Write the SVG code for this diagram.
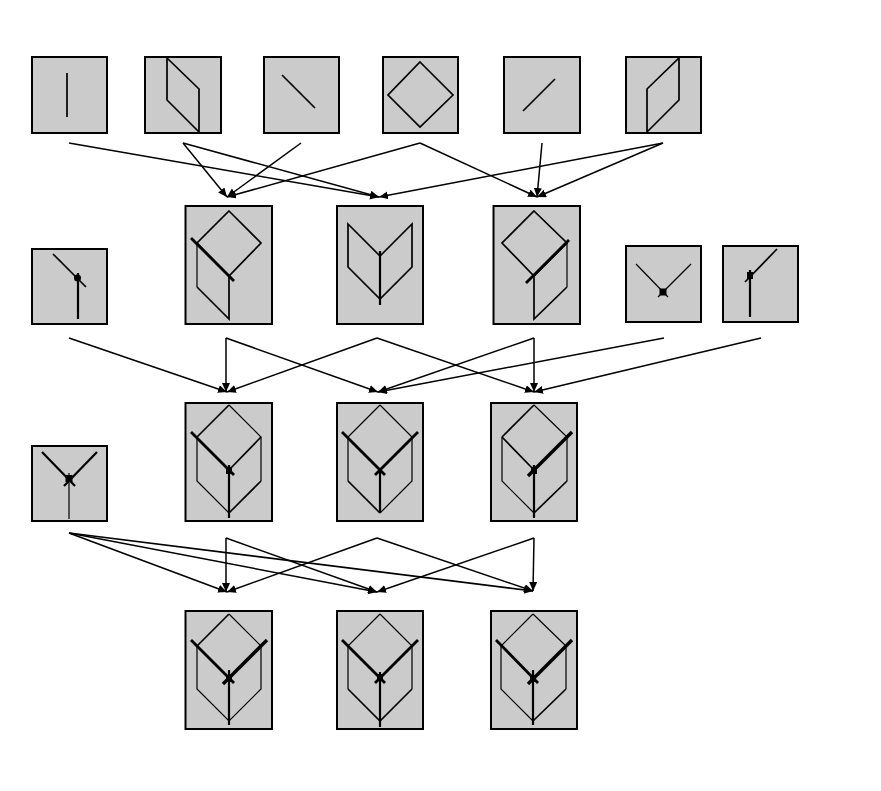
<svg xmlns="http://www.w3.org/2000/svg" width="881" height="791" viewBox="0 0 881 791">
<style>
.box{fill:#cbcbcb;stroke:#000;stroke-width:2}
.a{fill:none;stroke:#000;stroke-width:1.2}
.b{fill:none;stroke:#000;stroke-width:1.7}
.d{fill:none;stroke:#000;stroke-width:2.2}
.c{fill:none;stroke:#000;stroke-width:2.8}
.h{fill:none;stroke:#000;stroke-width:3.4}
#connectors line{stroke:#000;stroke-width:1.5;marker-end:url(#arrow)}
</style>
<defs>
<marker id="arrow" markerUnits="userSpaceOnUse" markerWidth="12" markerHeight="10" refX="9" refY="4" orient="auto"><path d="M0,0L9,4L0,8Z" fill="#000"/></marker>
</defs>
<rect width="881" height="791" fill="#fff"/>
<g id="connectors">
<line x1="69" y1="143" x2="379" y2="197"/>
<line x1="183" y1="143" x2="227" y2="197"/>
<line x1="183" y1="143" x2="379" y2="197"/>
<line x1="301" y1="143" x2="227" y2="197"/>
<line x1="420" y1="143" x2="227" y2="197"/>
<line x1="420" y1="143" x2="537" y2="197"/>
<line x1="542" y1="143" x2="537" y2="197"/>
<line x1="663" y1="143" x2="379" y2="197"/>
<line x1="663" y1="143" x2="537" y2="197"/>
<line x1="69" y1="338" x2="227" y2="392"/>
<line x1="226" y1="338" x2="226" y2="392"/>
<line x1="226" y1="338" x2="378" y2="392"/>
<line x1="377" y1="338" x2="227" y2="392"/>
<line x1="377" y1="338" x2="534" y2="392"/>
<line x1="534" y1="338" x2="378" y2="392"/>
<line x1="534" y1="338" x2="534" y2="392"/>
<line x1="664" y1="338" x2="378" y2="392"/>
<line x1="761" y1="338" x2="534" y2="392"/>
<line x1="69" y1="533" x2="227" y2="592"/>
<line x1="69" y1="533" x2="377" y2="592"/>
<line x1="69" y1="533" x2="533" y2="591"/>
<line x1="226" y1="538" x2="226" y2="592"/>
<line x1="226" y1="538" x2="377" y2="592"/>
<line x1="377" y1="538" x2="227" y2="592"/>
<line x1="377" y1="538" x2="533" y2="591"/>
<line x1="534" y1="538" x2="377" y2="592"/>
<line x1="534" y1="538" x2="533" y2="591"/>
</g>
<g id="n1"><rect class="box" x="32" y="57" width="75" height="76"/><path class="b" d="M67,73V117"/></g>
<g id="n2"><rect class="box" x="145" y="57" width="76" height="76"/><path class="b" d="M167,58L199,89V132L167,100Z"/></g>
<g id="n3"><rect class="box" x="264" y="57" width="75" height="76"/><path class="b" d="M282,75L315,108"/></g>
<g id="n4"><rect class="box" x="383" y="57" width="75" height="76"/><path class="b" d="M420,62L453,95L420,127L388,95Z"/></g>
<g id="n5"><rect class="box" x="504" y="57" width="76" height="76"/><path class="b" d="M523,111L555,79"/></g>
<g id="n6"><rect class="box" x="626" y="57" width="75" height="76"/><path class="b" d="M647,132V89L679,58V100L647,132"/></g>
<g id="n7"><rect class="box" x="32" y="249" width="75" height="75"/><path class="b" d="M53,254L86,287"/><path class="d" d="M78,273V319"/><circle cx="77.500" cy="278" r="3.500"/></g>
<g id="n8"><rect class="box" x="185.500" y="206" width="86.500" height="118"/><path class="b" d="M229,211L261,243L229,276L197,243Z"/><path class="a" d="M197,243V287"/><path class="b" d="M197,287L229,319V276"/><path class="c" d="M191,238L234,281"/></g>
<g id="n9"><rect class="box" x="337" y="206" width="86" height="118"/><path class="b" d="M348,224L380,256L412,224V267L380,299L348,267Z"/><path class="d" d="M380,251V305"/></g>
<g id="n10"><rect class="box" x="493.500" y="206" width="86.500" height="118"/><path class="b" d="M534,211L567,243L534,276L502,243Z"/><path class="a" d="M567,243V287"/><path class="b" d="M567,287L534,319V276"/><path class="c" d="M526,283L569,240"/></g>
<g id="n11"><rect class="box" x="626" y="246" width="75" height="76"/><path class="a" d="M636,264L668,297"/><path class="a" d="M691,264L658,297"/><rect x="659.500" y="288.500" width="7" height="7"/></g>
<g id="n12"><rect class="box" x="723" y="246" width="75" height="76"/><path class="b" d="M777,249L745,282"/><path class="d" d="M750,270V317"/><rect x="747" y="272" width="6" height="7"/></g>
<g id="n13"><rect class="box" x="32" y="446" width="75" height="75"/><path class="d" d="M42,452L75,486"/><path class="d" d="M97,452L64,486"/><path class="a" d="M69,473V519"/><rect x="65.500" y="475" width="7" height="7"/></g>
<g id="n14"><rect class="box" x="185.500" y="403" width="86.500" height="118"/><path class="a" d="M229,405L261,437V481"/><path class="b" d="M229,405L197,437"/><path class="a" d="M197,437V481L229,513"/><path class="b" d="M261,437L229,470"/><path class="b" d="M261,481L229,513"/><path class="c" d="M191,432L234,475"/><path class="d" d="M229,465V518"/><rect x="226" y="467" width="6" height="7"/></g>
<g id="n15"><rect class="box" x="337" y="403" width="86" height="118"/><path class="a" d="M380,405L412,437V481L380,513"/><path class="a" d="M380,405L348,437V481"/><path class="b" d="M348,481L380,513"/><path class="c" d="M342,432L385,475"/><path class="c" d="M418,432L375,475"/><path class="d" d="M380,468V513"/></g>
<g id="n16"><rect class="box" x="491" y="403" width="86" height="118"/><path class="b" d="M534,405L502,437"/><path class="a" d="M534,405L567,437V481"/><path class="a" d="M502,437V481L534,513"/><path class="b" d="M502,437L534,470"/><path class="b" d="M567,481L534,513"/><path class="h" d="M572,432L528,476"/><path class="d" d="M534,465V518"/><rect x="531" y="467" width="6" height="7"/></g>
<g id="n17"><rect class="box" x="185.500" y="611" width="86.500" height="118"/><path class="b" d="M229,614L197,646"/><path class="a" d="M229,614L261,646V689L229,721L197,689V646"/><path class="c" d="M191,640L234,683"/><path class="h" d="M267,640L223,684"/><path class="d" d="M229,670V725"/><rect x="226" y="675" width="6" height="7"/></g>
<g id="n18"><rect class="box" x="337" y="611" width="86" height="118"/><path class="a" d="M380,614L348,646V689"/><path class="a" d="M380,614L412,646V689"/><path class="b" d="M348,689L380,721L412,689"/><path class="c" d="M342,640L385,683"/><path class="c" d="M418,640L375,683"/><path class="d" d="M380,672V727"/><rect x="377" y="674" width="6" height="7"/></g>
<g id="n19"><rect class="box" x="491" y="611" width="86" height="118"/><path class="a" d="M533,614L501,646V689L533,721"/><path class="a" d="M533,614L566,646V689"/><path class="b" d="M566,689L533,721"/><path class="c" d="M496,640L538,683"/><path class="h" d="M572,640L528,684"/><path class="d" d="M533,670V725"/><rect x="530" y="675" width="6" height="7"/></g>
</svg>
